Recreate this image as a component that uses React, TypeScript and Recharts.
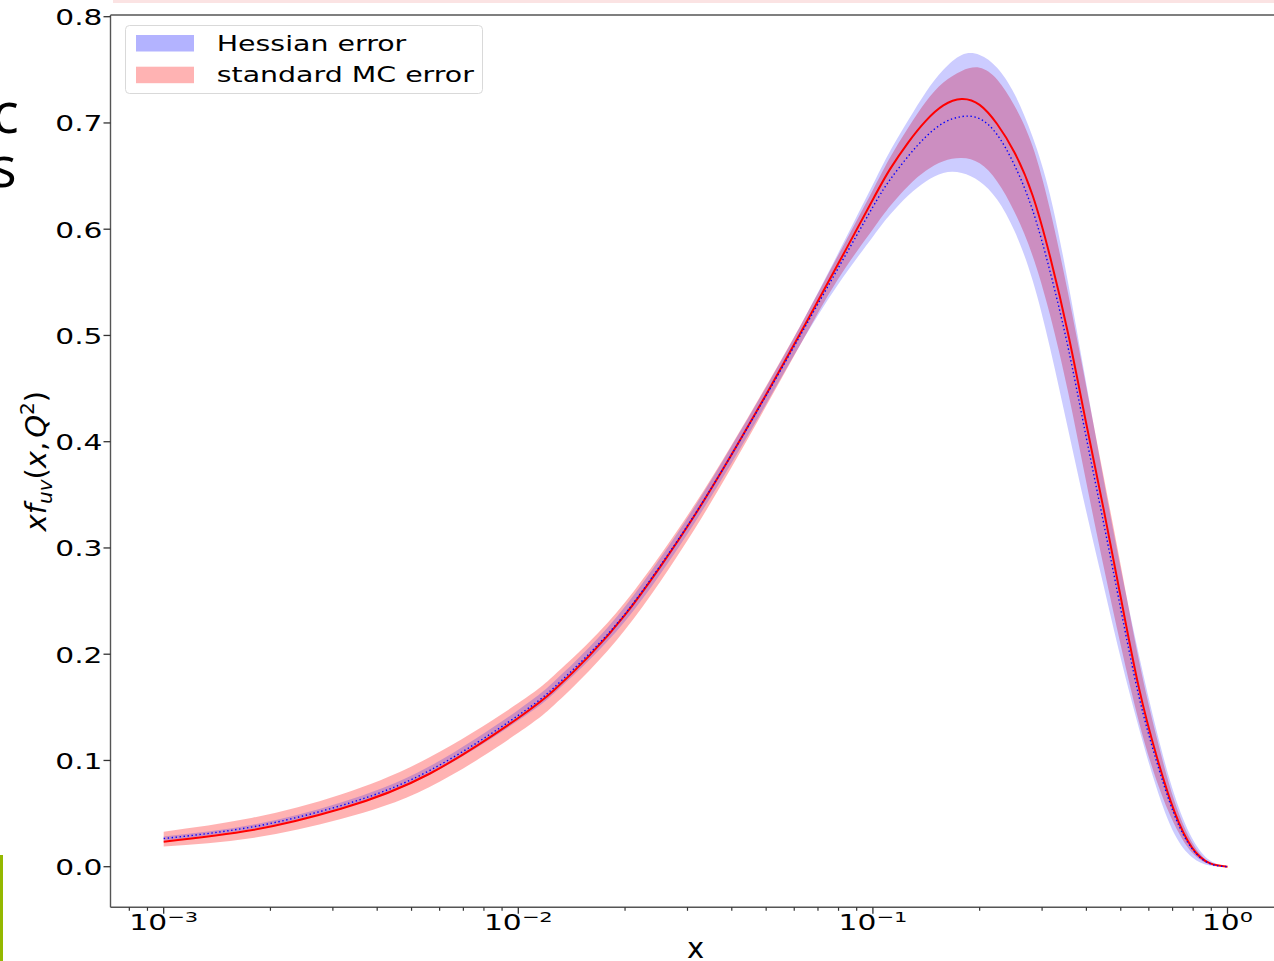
import React from 'react'
import {
  ComposedChart,
  Area,
  Line,
  XAxis,
  YAxis,
  ReferenceLine,
  Legend,
  Label,
} from 'recharts'

// x grid (log spaced) and the curves
const X_VALUES = [
  0.001, 0.00178, 0.00316, 0.00562, 0.01, 0.0126, 0.0158, 0.02, 0.0251, 0.0316,
  0.0398, 0.0501, 0.0631, 0.0794, 0.1, 0.112, 0.126, 0.141, 0.158, 0.178,
  0.2, 0.224, 0.251, 0.282, 0.316, 0.355, 0.398, 0.447, 0.501, 0.562,
  0.631, 0.708, 0.794, 0.891, 1.0,
]
const MC_CENTRAL = [
  0.0236, 0.0345, 0.0545, 0.0875, 0.14, 0.166, 0.198, 0.237, 0.282, 0.332,
  0.387, 0.445, 0.505, 0.566, 0.628, 0.657, 0.682, 0.702, 0.7165, 0.7225,
  0.717, 0.699, 0.672, 0.632, 0.574, 0.502, 0.42, 0.337, 0.252, 0.169,
  0.104, 0.052, 0.018, 0.0033, 0.0,
]
const MC_LOW = [
  0.019, 0.027, 0.045, 0.075, 0.126, 0.152, 0.184, 0.223, 0.268, 0.319,
  0.375, 0.434, 0.494, 0.552, 0.6, 0.622, 0.641, 0.655, 0.664, 0.667,
  0.662, 0.645, 0.616, 0.575, 0.519, 0.447, 0.365, 0.283, 0.207, 0.137,
  0.081, 0.04, 0.0134, 0.0024, 0.0,
]
const MC_HIGH = [
  0.033, 0.046, 0.068, 0.103, 0.154, 0.18, 0.211, 0.249, 0.293, 0.342,
  0.396, 0.453, 0.512, 0.574, 0.637, 0.668, 0.696, 0.72, 0.738, 0.749,
  0.752, 0.741, 0.716, 0.678, 0.618, 0.54, 0.455, 0.368, 0.282, 0.195,
  0.122, 0.062, 0.023, 0.004, 0.0,
]
const HESS_CENTRAL = [
  0.0265, 0.0375, 0.0575, 0.0905, 0.1425, 0.1685, 0.2, 0.238, 0.283, 0.3325,
  0.387, 0.444, 0.503, 0.562, 0.621, 0.647, 0.669, 0.687, 0.7, 0.706,
  0.704, 0.689, 0.66, 0.618, 0.56, 0.489, 0.407, 0.324, 0.241, 0.161,
  0.099, 0.049, 0.017, 0.003, 0.0,
]
const HESS_LOW = [
  0.0245, 0.0355, 0.0545, 0.0865, 0.1375, 0.163, 0.194, 0.231, 0.275, 0.325,
  0.379, 0.436, 0.494, 0.547, 0.593, 0.614, 0.632, 0.645, 0.653, 0.653,
  0.645, 0.628, 0.598, 0.552, 0.488, 0.412, 0.337, 0.265, 0.195, 0.131,
  0.074, 0.031, 0.009, 0.0012, 0.0,
]
const HESS_HIGH = [
  0.0285, 0.0395, 0.0605, 0.0945, 0.1475, 0.174, 0.206, 0.245, 0.29, 0.34,
  0.395, 0.452, 0.512, 0.576, 0.642, 0.674, 0.703, 0.729, 0.75, 0.764,
  0.764, 0.752, 0.727, 0.687, 0.632, 0.55, 0.458, 0.365, 0.279, 0.2,
  0.128, 0.068, 0.027, 0.006, 0.0005,
]

const X_MAJOR_TICKS = [0.001, 0.01, 0.1, 1]
const X_TICK_EXPONENTS = ['\u22123', '\u22122', '\u22121', '0']
const X_MINOR_TICKS = [
  0.0008, 0.0009,
  0.002, 0.003, 0.004, 0.005, 0.006, 0.007, 0.008, 0.009,
  0.02, 0.03, 0.04, 0.05, 0.06, 0.07, 0.08, 0.09,
  0.2, 0.3, 0.4, 0.5, 0.6, 0.7, 0.8, 0.9,
]
const Y_TICKS = [0, 0.1, 0.2, 0.3, 0.4, 0.5, 0.6, 0.7, 0.8]
const LEGEND_ITEMS = [
  { label: 'Hessian error', color: '#b3b3ff' },
  { label: 'standard MC error', color: '#ffb3b3' },
]

const X_DOMAIN = [Math.pow(10, -3.15), Math.pow(10, 0.15)]
const Y_DOMAIN = [-0.0382, 0.8016]

const FONT = '"DejaVu Sans", sans-serif'
const SX = 1.45 // tick text is horizontally stretched in the source
const SX_LEGEND = 1.4
const SPINE = '#555'
const X_TICK_SIZE = 6.5
const X_TICK_MARGIN = 2

const rows = X_VALUES.map((x, i) => ({
  x,
  mc: MC_CENTRAL[i],
  mcBand: [MC_LOW[i], MC_HIGH[i]],
  hess: HESS_CENTRAL[i],
  hessBand: [HESS_LOW[i], HESS_HIGH[i]],
}))

function XTick(props: any) {
  const { x, y, payload } = props
  const axisY = y - X_TICK_SIZE - X_TICK_MARGIN
  const idx = X_MAJOR_TICKS.indexOf(payload.value)
  if (idx < 0) {
    return <line x1={x} x2={x} y1={axisY} y2={axisY + 3.5} stroke="#333" strokeWidth={1.2} />
  }
  return (
    <g>
      <line x1={x} x2={x} y1={axisY} y2={axisY + X_TICK_SIZE} stroke="#333" strokeWidth={1.3} />
      <text
        transform={`translate(${x},${axisY + 22.7}) scale(${SX},1)`}
        textAnchor="middle"
        fontFamily={FONT}
        fontSize={20.5}
        fill="#000"
      >
        <tspan>10</tspan>
        <tspan dy={-8.5} fontSize={14.5}>{X_TICK_EXPONENTS[idx]}</tspan>
      </text>
    </g>
  )
}

function YTick(props: any) {
  const { x, y, payload } = props
  return (
    <text
      transform={`translate(${x},${y + 8.3}) scale(${SX},1)`}
      textAnchor="end"
      fontFamily={FONT}
      fontSize={20.5}
      fill="#000"
    >
      {payload.value.toFixed(1)}
    </text>
  )
}

function XTitle(props: any) {
  const { viewBox } = props
  return (
    <text
      x={viewBox.x + viewBox.width / 2}
      y={958}
      textAnchor="middle"
      fontFamily={FONT}
      fontSize={29}
      fill="#000"
    >
      x
    </text>
  )
}

function YTitle(props: any) {
  const { viewBox } = props
  const cy = viewBox.y + viewBox.height / 2
  return (
    <text
      transform={`translate(46,${cy}) rotate(-90)`}
      textAnchor="middle"
      fontFamily={FONT}
      fontSize={29}
      fill="#000"
    >
      <tspan fontStyle="italic">xf</tspan>
      <tspan fontStyle="italic" fontSize={20} dy={6}>uv</tspan>
      <tspan dy={-6}>(</tspan>
      <tspan fontStyle="italic">x</tspan>
      <tspan>,</tspan>
      <tspan fontStyle="italic" dx={4}>Q</tspan>
      <tspan fontSize={20} dy={-12}>2</tspan>
      <tspan dy={12}>)</tspan>
    </text>
  )
}

function LegendBox() {
  return (
    <svg width={360} height={71} style={{ display: 'block' }}>
      <rect x={0.5} y={0.5} width={357} height={68} rx={4} fill="#fff" fillOpacity={0.8} stroke="#d9d9d9" />
      {LEGEND_ITEMS.map((item, i) => (
        <g key={item.label}>
          <rect x={11} y={10 + i * 31.7} width={58} height={16.5} fill={item.color} />
          <text
            transform={`translate(91.7,${25.7 + i * 31.6}) scale(${SX_LEGEND},1)`}
            fontFamily={FONT}
            fontSize={20.3}
            fill="#000"
          >
            {item.label}
          </text>
        </g>
      ))}
    </svg>
  )
}

export default function App() {
  return (
    <div
      style={{
        position: 'absolute',
        left: 0,
        top: 0,
        width: 1274,
        height: 961,
        overflow: 'hidden',
        background: '#fff',
        fontFamily: FONT,
      }}
    >
      <ComposedChart
        width={1300}
        height={961}
        data={rows}
        margin={{ top: 15, right: 19.3, bottom: 0, left: 0 }}
      >
        <XAxis
          dataKey="x"
          type="number"
          scale="log"
          domain={X_DOMAIN}
          allowDataOverflow
          ticks={[...X_MAJOR_TICKS, ...X_MINOR_TICKS]}
          interval={0}
          tick={(p: any) => <XTick {...p} />}
          tickLine={false}
          tickSize={X_TICK_SIZE}
          tickMargin={X_TICK_MARGIN}
          height={53.7}
          axisLine={{ stroke: SPINE, strokeWidth: 1.4 }}
          label={<Label content={XTitle} />}
        />
        <YAxis
          type="number"
          domain={Y_DOMAIN}
          allowDataOverflow
          ticks={Y_TICKS}
          interval={0}
          width={110.5}
          tickSize={7}
          tickMargin={1}
          tick={(p: any) => <YTick {...p} />}
          tickLine={{ stroke: '#333', strokeWidth: 1.3 }}
          axisLine={{ stroke: SPINE, strokeWidth: 1.4 }}
          label={<Label content={YTitle} />}
        />
        <ReferenceLine y={Y_DOMAIN[1]} stroke={SPINE} strokeWidth={1.4} ifOverflow="visible" />
        <Area
          type="natural"
          dataKey="mcBand"
          stroke="none"
          fill="#ff0000"
          fillOpacity={0.3}
          dot={false}
          activeDot={false}
          isAnimationActive={false}
        />
        <Area
          type="natural"
          dataKey="hessBand"
          stroke="none"
          fill="#0000ff"
          fillOpacity={0.2}
          dot={false}
          activeDot={false}
          isAnimationActive={false}
        />
        <Line
          type="natural"
          dataKey="mc"
          stroke="#ff0000"
          strokeWidth={2}
          dot={false}
          activeDot={false}
          isAnimationActive={false}
        />
        <Line
          type="natural"
          dataKey="hess"
          stroke="#0000ff"
          strokeWidth={1.4}
          strokeDasharray="1.4 2.6"
          dot={false}
          activeDot={false}
          isAnimationActive={false}
        />
        <Legend
          content={() => <LegendBox />}
          layout="vertical"
          align="center"
          verticalAlign="middle"
          wrapperStyle={{ left: 125, top: 25, width: 360, height: 71 }}
        />
      </ComposedChart>
      <svg
        width={1274}
        height={961}
        style={{ position: 'absolute', left: 0, top: 0, pointerEvents: 'none' }}
      >
        <rect x={113} y={0} width={1161} height={3} fill="#fbe3e3" />
        <rect x={0} y={855} width={3} height={106} fill="#94b800" />
        <text x={-8} y={133} fontFamily='"Open Sans", sans-serif' fontSize={56} fill="#000">c</text>
        <text x={-10} y={187} fontFamily='"Open Sans", sans-serif' fontSize={56} fill="#000">s</text>
      </svg>
    </div>
  )
}
